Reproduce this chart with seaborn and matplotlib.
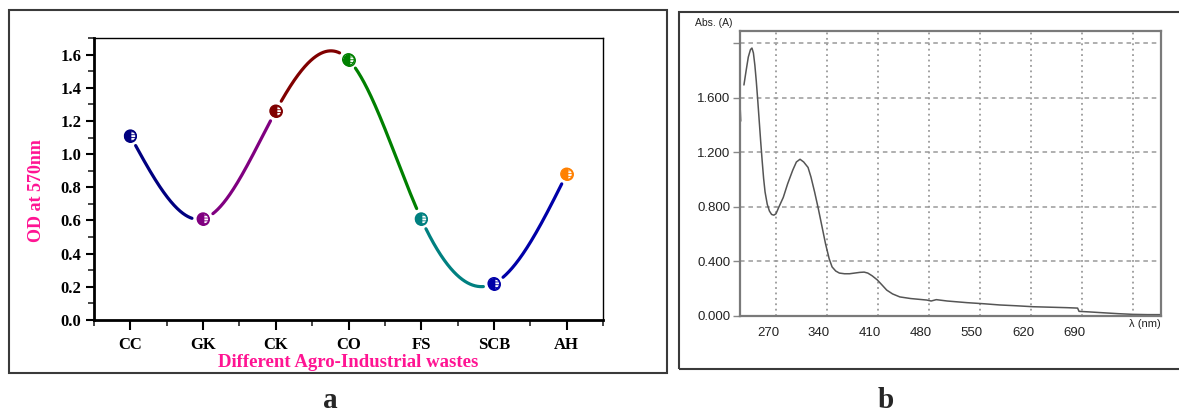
import numpy as np
import pandas as pd
import matplotlib
matplotlib.use("Agg")
import matplotlib.pyplot as plt
import matplotlib.patches as mpatches
from matplotlib.ticker import MultipleLocator, FixedLocator
from matplotlib.transforms import ScaledTranslation
import seaborn as sns

# ---------------- data ----------------
wastes = ["CC", "GK", "CK", "CO", "FS", "SCB", "AH"]
od_570 = [1.11, 0.61, 1.26, 1.57, 0.61, 0.22, 0.88]
waste_colors = ["#000080", "#800080", "#800000", "#008000", "#008080", "#0000A8", "#FF8000"]

# UV-Vis spectrum (panel b)
spec_start_nm = [221.0, 221.6]
spec_start_abs = [1.51, 1.43]
spec_nm = [226, 229, 232, 235, 237, 239, 241, 243, 245, 247, 249, 251, 253, 255, 258, 261, 264,
           267, 270, 274, 280, 286, 293, 298, 303, 308, 314, 318, 323, 328, 333, 338, 343, 347,
           352, 357, 364, 371, 378, 385, 391, 396, 402, 409, 416, 422, 430, 440, 455, 477, 483,
           490, 505, 532, 555, 577, 600, 623, 650, 670, 684, 686, 700, 715, 740, 760, 780, 798]
spec_abs = [1.695, 1.80, 1.90, 1.955, 1.966, 1.93, 1.84, 1.72, 1.58, 1.43, 1.28, 1.14, 1.01,
            0.91, 0.82, 0.77, 0.745, 0.74, 0.75, 0.80, 0.87, 0.97, 1.07, 1.13, 1.15, 1.13, 1.09,
            1.02, 0.91, 0.79, 0.66, 0.53, 0.42, 0.36, 0.33, 0.315, 0.31, 0.31, 0.315, 0.32,
            0.322, 0.315, 0.295, 0.265, 0.225, 0.19, 0.162, 0.14, 0.128, 0.117, 0.11, 0.12, 0.11,
            0.098, 0.09, 0.081, 0.075, 0.068, 0.064, 0.061, 0.058, 0.034, 0.03, 0.025, 0.017,
            0.012, 0.01, 0.01]
spec_xticks = [270, 340, 410, 480, 550, 620, 690, 760]
spec_xticklabels = ["270", "340", "410", "480", "550", "620", "690", ""]
spec_yticks = [0.0, 0.4, 0.8, 1.2, 1.6, 2.0]
spec_yticklabels = ["0.000", "0.400", "0.800", "1.200", "1.600", ""]

# ---------------- style ----------------
sns.set_style("white")
plt.rcParams["font.family"] = ["Liberation Serif", "DejaVu Serif"]

W, H = 1179, 412
fig = plt.figure(figsize=(W / 100, H / 100), dpi=100)

def px_axes(l, t, r, b):
    return [l / W, (H - b) / H, (r - l) / W, (b - t) / H]

# outer frames
fig.add_artist(mpatches.Rectangle((9 / W, (H - 373) / H), 658 / W, 363 / H, fill=False,
                                  edgecolor="#3a3a3a", lw=1.5, transform=fig.transFigure))
fig.add_artist(mpatches.Rectangle((679 / W, (H - 369) / H), 520 / W, 357 / H, fill=False,
                                  edgecolor="#3a3a3a", lw=1.5, transform=fig.transFigure))

# ---------------- panel a ----------------
ax = fig.add_axes(px_axes(94, 38, 603, 320))
ax.set_xlim(-0.5, 6.5)
ax.set_ylim(0, 1.70)

xpos = np.arange(len(wastes), dtype=float)
y = np.array(od_570)

# natural cubic spline through the points (smooth connection, like Origin's spline line)
n = len(xpos)
h = np.diff(xpos)
A = np.zeros((n, n)); rhs = np.zeros(n)
A[0, 0] = 1; A[-1, -1] = 1
for i in range(1, n - 1):
    A[i, i - 1] = h[i - 1]; A[i, i] = 2 * (h[i - 1] + h[i]); A[i, i + 1] = h[i]
    rhs[i] = 6 * ((y[i + 1] - y[i]) / h[i] - (y[i] - y[i - 1]) / h[i - 1])
M = np.linalg.solve(A, rhs)

def spline_seg(i, t):
    x0, x1 = xpos[i], xpos[i + 1]; hh = x1 - x0
    a = (x1 - t) / hh; b = (t - x0) / hh
    return (a * y[i] + b * y[i + 1] + ((a ** 3 - a) * M[i] + (b ** 3 - b) * M[i + 1]) * hh ** 2 / 6)

trans = ax.transData
gap_px = 11
for i in range(n - 1):
    t = np.linspace(xpos[i], xpos[i + 1], 400)
    s = spline_seg(i, t)
    pts = trans.transform(np.column_stack([t, s]))
    p0 = trans.transform((xpos[i], y[i])); p1 = trans.transform((xpos[i + 1], y[i + 1]))
    keep = (np.hypot(*(pts - p0).T) > gap_px) & (np.hypot(*(pts - p1).T) > gap_px)
    seg = pd.DataFrame({"x": t[keep], "y": s[keep]})
    sns.lineplot(data=seg, x="x", y="y", ax=ax, color=waste_colors[i], lw=2.3,
                 sort=False, estimator=None)

for i in range(n):
    with plt.rc_context({"hatch.color": waste_colors[i], "hatch.linewidth": 0.6}):
        ax.scatter([xpos[i]], [y[i]], s=70, facecolor="white", edgecolor=waste_colors[i],
                   hatch="------", linewidth=1.0, zorder=4)
    ax.plot([xpos[i]], [y[i]], marker="o", markersize=8.3, fillstyle="left",
            markerfacecolor=waste_colors[i], markerfacecoloralt="none",
            markeredgecolor=waste_colors[i], markeredgewidth=1.0, zorder=5)

ax.set_xticks(xpos)
ax.set_xticklabels(wastes)
ax.xaxis.set_minor_locator(FixedLocator(np.arange(-0.5, 6.6, 1.0)))
ax.yaxis.set_major_locator(MultipleLocator(0.2))
ax.yaxis.set_minor_locator(MultipleLocator(0.1))
ax.set_yticklabels([f"{v:.1f}" for v in ax.get_yticks()])
ax.tick_params(axis="both", which="major", direction="out", length=6, width=1.5,
               labelsize=12, pad=3, bottom=True, left=True, top=False, right=False,
               colors="black")
ax.tick_params(axis="both", which="minor", direction="out", length=4, width=1.2,
               bottom=True, left=True, top=False, right=False)
ax.tick_params(axis="x", which="major", pad=5, length=7)
for lab in ax.get_xticklabels() + ax.get_yticklabels():
    lab.set_fontweight("bold")
for sp in ["left", "bottom"]:
    ax.spines[sp].set_linewidth(2.0)
for sp in ["top", "right"]:
    ax.spines[sp].set_linewidth(1.0)
for sp in ax.spines.values():
    sp.set_color("black")
    sp.set_visible(True)

pink = "#FF1493"
ax.set_ylabel("OD at 570nm", color=pink, fontsize=13, fontweight="bold")
ax.yaxis.set_label_coords(-0.097, 0.46)
ax.set_xlabel("Different Agro-Industrial wastes", color=pink, fontsize=13.5, fontweight="bold",
              va="top")
ax.xaxis.set_label_coords(0.5, -0.122)

# ---------------- panel b ----------------
bx = fig.add_axes(px_axes(740, 31, 1161, 316))
bx.set_xlim(220.6, 798.5)
bx.set_ylim(0, 2.091)

sns.lineplot(x=spec_start_nm, y=spec_start_abs, ax=bx, color="#555555", lw=1.1,
             sort=False, estimator=None)
sns.lineplot(x=spec_nm, y=spec_abs, ax=bx, color="#555555", lw=1.1, sort=False, estimator=None)

bx.set_xticks(spec_xticks)
bx.set_xticklabels(spec_xticklabels)
bx.set_yticks(spec_yticks)
bx.set_yticklabels(spec_yticklabels)
bx.xaxis.grid(True, color="#9a9a9a", lw=1.3, linestyle=(0, (1, 2)))
bx.yaxis.grid(True, color="#9a9a9a", lw=1.1, linestyle=(0, (3, 2.5)))
bx.set_axisbelow(True)
sans = ["Liberation Sans", "DejaVu Sans"]
bx.tick_params(axis="x", length=0, pad=8, labelsize=9.5, colors="#222222")
bx.tick_params(axis="y", length=5, width=1.0, color="#888888", pad=2, labelsize=9.5,
               labelcolor="#222222", left=True)
for lab in bx.get_xticklabels() + bx.get_yticklabels():
    lab.set_fontfamily(sans)
off = ScaledTranslation(-8 / 100, 0, fig.dpi_scale_trans)
for lab in bx.get_xticklabels():
    lab.set_transform(lab.get_transform() + off)
for sp in bx.spines.values():
    sp.set_visible(True)
    sp.set_color("#7a7a7a")
    sp.set_linewidth(1.6)
bx.set_xlabel("")
bx.set_ylabel("")
bx.text((695 - 740) / 421, (316 - 23) / 285, "Abs. (A)", transform=bx.transAxes,
        ha="left", va="center", fontsize=7.5, family=sans, color="#222222")
bx.text(1.0, -(319 - 316) / 285, "λ (nm)", transform=bx.transAxes, ha="right", va="top",
        fontsize=8, family=sans, color="#222222")

# ---------------- panel letters ----------------
fig.text(330 / W, 4 / H, "a", ha="center", va="baseline", fontsize=21, fontweight="bold")
fig.text(886 / W, 4 / H, "b", ha="center", va="baseline", fontsize=21, fontweight="bold")

fig.savefig("out.png", dpi=100)
